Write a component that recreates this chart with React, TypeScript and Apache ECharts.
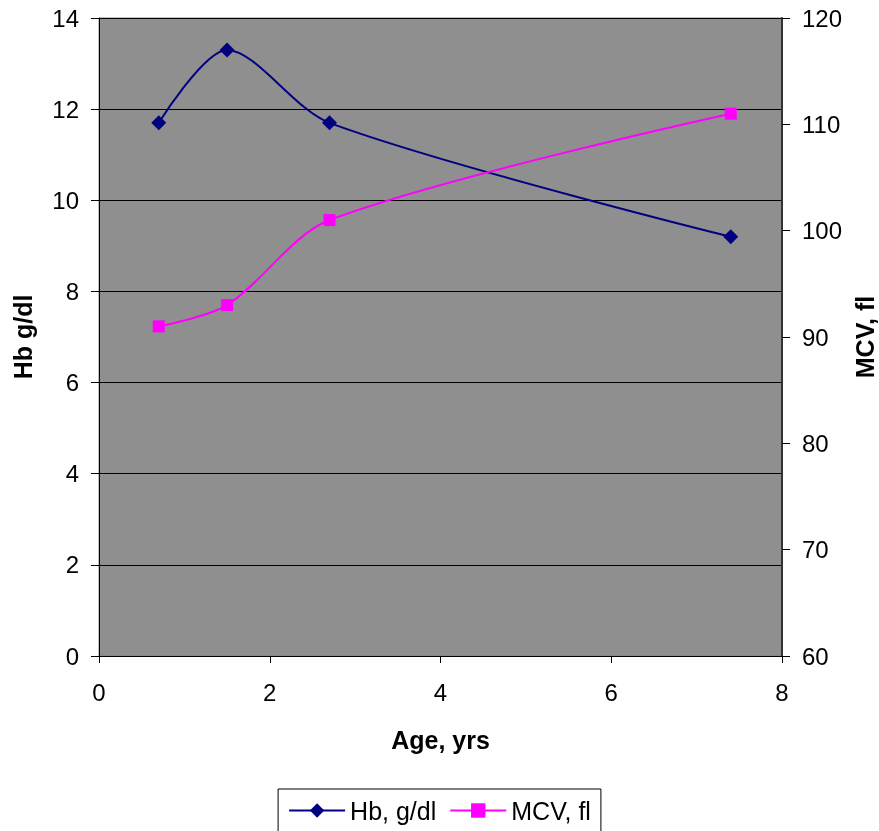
import React, { useEffect, useRef } from "react";
import * as echarts from "echarts";

const ageYrs = [0.7, 1.5, 2.7, 7.4];
const hbValues = [11.7, 13.3, 11.7, 9.2];
const mcvValues = [91, 93, 101, 111];
const hbName = "Hb, g/dl";
const mcvName = "MCV, fl";

export default function App() {
  const ref = useRef<HTMLDivElement>(null);
  useEffect(() => {
    const chart = echarts.init(ref.current!, null, { renderer: "svg" });
    const font = "Liberation Sans, Arial, sans-serif";
    chart.setOption({
      animation: false,
      textStyle: { fontFamily: font },
      grid: {
        left: 99, right: 97, top: 18, bottom: 175,
        outerBoundsMode: "none",
        containLabel: false,
        show: true, backgroundColor: "#8f8f8f", borderColor: "#808080", borderWidth: 1,
      },
      legend: {
        bottom: -6,
        left: "center",
        data: [hbName, mcvName],
        itemWidth: 56,
        itemHeight: 18,
        itemGap: 13,
        padding: [9, 10, 14, 10],
        borderColor: "#000",
        borderWidth: 1,
        textStyle: { fontSize: 25, color: "#000", fontFamily: font },
      },
      xAxis: {
        type: "value",
        min: 0,
        max: 8,
        interval: 2,
        name: "Age, yrs",
        nameLocation: "middle",
        nameGap: 71,
        nameTextStyle: { fontSize: 25, fontWeight: "bold", color: "#000", fontFamily: font },
        axisLine: { show: true, onZero: false, lineStyle: { color: "#000", width: 1 } },
        axisTick: { show: true, length: 7, lineStyle: { color: "#000" } },
        axisLabel: { fontSize: 24, color: "#000", margin: 24, fontFamily: font },
        splitLine: { show: false },
      },
      yAxis: [
        {
          type: "value",
          min: 0,
          max: 14,
          interval: 2,
          position: "left",
          name: "Hb g/dl",
          nameLocation: "middle",
          nameGap: 64,
          nameRotate: 90,
          nameTextStyle: { fontSize: 25, fontWeight: "bold", color: "#000", fontFamily: font },
          axisLine: { show: true, lineStyle: { color: "#000", width: 1 } },
          axisTick: { show: true, length: 8, lineStyle: { color: "#000" } },
          axisLabel: { fontSize: 24, color: "#000", margin: 20, fontFamily: font },
          splitLine: { show: true, lineStyle: { color: "#000", width: 1 } },
        },
        {
          type: "value",
          min: 60,
          max: 120,
          interval: 10,
          position: "right",
          name: "MCV, fl",
          nameLocation: "middle",
          nameGap: 70,
          nameRotate: 90,
          nameTextStyle: { fontSize: 25, fontWeight: "bold", color: "#000", fontFamily: font },
          axisLine: { show: true, lineStyle: { color: "#333", width: 2 } },
          axisTick: { show: true, length: 8, lineStyle: { color: "#000" } },
          axisLabel: { fontSize: 24, color: "#000", margin: 20, fontFamily: font },
          splitLine: { show: false },
        },
      ],
      series: [
        {
          name: hbName,
          type: "line",
          yAxisIndex: 0,
          smooth: 0.3,
          data: ageYrs.map((a, i) => [a, hbValues[i]]),
          symbol: "diamond",
          symbolSize: 15,
          itemStyle: { color: "#000080" },
          lineStyle: { color: "#000080", width: 2 },
        },
        {
          name: mcvName,
          type: "line",
          yAxisIndex: 1,
          smooth: 0.3,
          data: ageYrs.map((a, i) => [a, mcvValues[i]]),
          symbol: "rect",
          symbolSize: 12,
          itemStyle: { color: "#ff00ff" },
          lineStyle: { color: "#ff00ff", width: 2 },
        },
      ],
    });
    return () => chart.dispose();
  }, []);
  return <div ref={ref} style={{ position: "fixed", left: 0, top: 0, width: 879, height: 831 }} />;
}
